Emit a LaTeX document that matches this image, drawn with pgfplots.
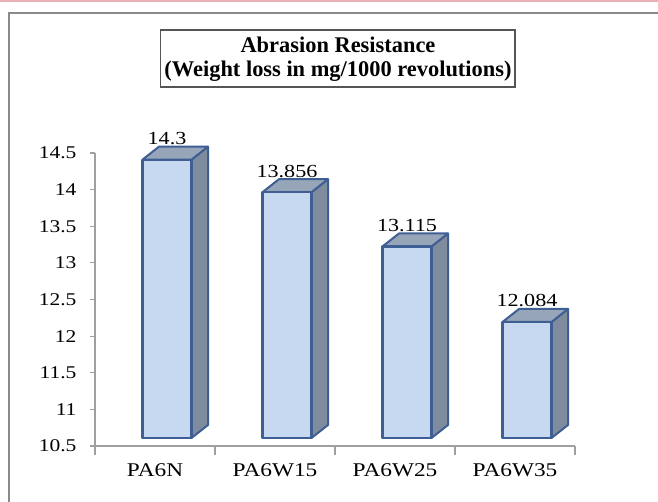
\documentclass[border=0pt]{standalone}
\usepackage{pgfplots}
\pgfplotsset{compat=1.18}
\usepackage{fontspec}
\setmainfont{Liberation Serif}
\newfontfamily\lbl[FakeStretch=1.2]{Liberation Serif}
\definecolor{frontc}{HTML}{C6D9F1}
\definecolor{edgec}{HTML}{3F5F94}
\definecolor{sidec}{HTML}{7F8C9E}
\definecolor{topc}{HTML}{97A5B8}
\definecolor{axc}{HTML}{A0A0A0}
\definecolor{framec}{HTML}{8A8A8A}
\definecolor{pinkc}{HTML}{EBB0B5}
\definecolor{boxc}{HTML}{555555}
\begin{document}
\begin{tikzpicture}[x=1bp,y=1bp]
\useasboundingbox (0,0) rectangle (658,502);
\fill[pinkc] (0,499.5) rectangle (658,502);
\draw[framec, line width=2.5bp] (9,0) -- (9,489) -- (658,489);
\draw[boxc, line width=1.5bp, fill=white] (160.5,415) rectangle (515,472);
\node[anchor=base, font=\bfseries\fontsize{22.5}{24}\selectfont] at (338,449) {Abrasion Resistance};
\node[anchor=base, font=\bfseries\fontsize{22.5}{24}\selectfont] at (338,425) {(Weight loss in mg/1000 revolutions)};
\begin{axis}[
  at={(95bp,56bp)}, anchor=south west,
  scale only axis, width=480bp, height=293bp,
  xmin=-0.5, xmax=3.5, ymin=10.5, ymax=14.5,
  axis x line*=bottom, axis y line*=left,
  axis line style={draw=axc, line width=1.2bp, -},
  xtick={0,1,2,3}, xticklabels={PA6N,PA6W15,PA6W25,PA6W35},
  minor xtick={-0.5,0.5,1.5,2.5,3.5},
  ytick={10.5,11,11.5,12,12.5,13,13.5,14,14.5},
  tick align=outside,
  major tick length=5bp, minor tick length=9bp,
  major x tick style={draw=none},
  minor x tick style={draw=axc, line width=1.2bp},
  major y tick style={draw=axc, line width=1.2bp},
  /pgf/number format/assume math mode=true,
  yticklabel style={font=\lbl\fontsize{18}{18}\selectfont, text=black, xshift=-10bp},
  xticklabel style={font=\lbl\fontsize{19.5}{19.5}\selectfont, text=black, yshift=-9bp},
  clip=false,
]
\addplot[scatter, only marks, mark=*, mark size=0pt,
  visualization depends on={rawy \as \val},
  scatter/@pre marker code/.code={%
    \pgfmathsetmacro\hh{(\val-10.5)*73.25}%
    \filldraw[fill=sidec, draw=edgec, line width=2bp, line join=round]
      (36.5bp,8bp) -- (53bp,21bp) -- (53bp,{(21-\hh)*1bp}) -- (36.5bp,{(8-\hh)*1bp}) -- cycle;
    \filldraw[fill=topc, draw=edgec, line width=2bp, line join=round]
      (-12.5bp,8bp) -- (4bp,21bp) -- (53bp,21bp) -- (36.5bp,8bp) -- cycle;
    \filldraw[fill=frontc, draw=edgec, line width=2.2bp, line join=round]
      (-12.5bp,8bp) rectangle (36.5bp,{(8-\hh)*1bp});
  },
  scatter/@post marker code/.code={},
] coordinates {(0,14.3) (1,13.856) (2,13.115) (3,12.084)};
\addplot[draw=none, mark=none,
  nodes near coords={\lbl\pgfmathprintnumber[precision=3]{\pgfplotspointmeta}},
  every node near coord/.append style={font=\fontsize{18.5}{18.5}\selectfont, text=black, anchor=base, xshift=12bp, yshift=23bp},
] coordinates {(0,14.3) (1,13.856) (2,13.115) (3,12.084)};
\end{axis}
\end{tikzpicture}
\end{document}
